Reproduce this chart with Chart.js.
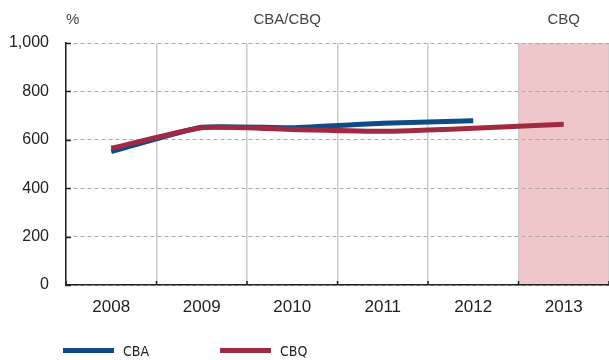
<!DOCTYPE html>
<html>
<head>
<meta charset="utf-8">
<script src="https://cdn.jsdelivr.net/npm/chart.js@4"></script>
<style>
  body { margin: 0; background: #fff; }
  #wrap { position: relative; width: 609px; height: 360px; }
  .leg { position: absolute; top: 343px; line-height: 18px; font: 14px 'Liberation Sans Narrow', 'DejaVu Sans Condensed', sans-serif; color: #222; }
  .leg span { display: inline-block; width: 51px; height: 5px; vertical-align: middle; margin-right: 9px; position: relative; top: -2px; }
</style>
</head>
<body>
<div id="wrap">
  <canvas id="chart" width="609" height="360"></canvas>
  <div class="leg" style="left:63px"><span style="background:#0f4c85"></span>CBA</div>
  <div class="leg" style="left:220px"><span style="background:#a12a42"></span>CBQ</div>
</div>
<script>
const years = ['2008', '2009', '2010', '2011', '2012', '2013'];
const cba = [551, 652, 650, 668, 679, null];
const cbq = [565, 650, 643, 635, 648, 664];
const yTicks = [0, 200, 400, 600, 800, 1000];
const shadedYear = '2013';

const textFont = "'Liberation Sans', Arial, sans-serif";

const extras = {
  id: 'extras',
  beforeDraw(chart) {
    const { ctx, chartArea, scales } = chart;
    const x = scales.x;
    const idx = years.indexOf(shadedYear);
    const left = (x.getPixelForValue(idx - 1) + x.getPixelForValue(idx)) / 2;
    ctx.save();
    ctx.fillStyle = '#efc6c9';
    ctx.fillRect(left, chartArea.top, chartArea.right - left, chartArea.bottom - chartArea.top);
    ctx.restore();
  },
  afterDraw(chart) {
    const { ctx, chartArea, scales } = chart;
    const x = scales.x, y = scales.y;
    const idx = years.indexOf(shadedYear);
    const split = (x.getPixelForValue(idx - 1) + x.getPixelForValue(idx)) / 2;
    ctx.save();
    ctx.fillStyle = '#444';
    ctx.font = '15px ' + textFont;
    ctx.textBaseline = 'middle';
    ctx.textAlign = 'left';
    ctx.fillText('%', chartArea.left, 20);
    ctx.textAlign = 'center';
    ctx.fillText('CBA/CBQ', (chartArea.left + split) / 2 - 5, 20);
    ctx.fillText('CBQ', x.getPixelForValue(idx), 20);
    // inward tick marks
    ctx.strokeStyle = '#222';
    ctx.lineWidth = 1.5;
    ctx.beginPath();
    yTicks.forEach(v => {
      const py = Math.round(y.getPixelForValue(v)) + 0.5;
      ctx.moveTo(chartArea.left, py);
      ctx.lineTo(chartArea.left + 5, py);
    });
    for (let i = 0; i <= years.length; i++) {
      const px = x.getPixelForValue(i - 0.5);
      ctx.moveTo(px, chartArea.bottom);
      ctx.lineTo(px, chartArea.bottom - 4);
    }
    ctx.stroke();
    ctx.restore();
  }
};

new Chart(document.getElementById('chart'), {
  type: 'line',
  data: {
    labels: years,
    datasets: [
      { label: 'CBQ', data: cbq, borderColor: '#a12a42', backgroundColor: '#a12a42', borderWidth: 5, order: 0 },
      { label: 'CBA', data: cba, borderColor: '#0f4c85', backgroundColor: '#0f4c85', borderWidth: 5, order: 1 }
    ]
  },
  options: {
    responsive: false,
    animation: false,
    layout: { padding: { top: 43, right: 0, bottom: 40, left: 0 } },
    elements: {
      point: { radius: 0 },
      line: { tension: 0.15, borderCapStyle: 'butt' }
    },
    plugins: {
      legend: { display: false },
      tooltip: { enabled: false }
    },
    scales: {
      x: {
        offset: true,
        afterFit: s => { s.height = 35; },
        grid: { offset: true, color: '#cccccc', lineWidth: 1.5, drawTicks: false },
        border: { color: '#222', width: 1.5 },
        ticks: { color: '#222', padding: 12, font: { size: 17, family: textFont } }
      },
      y: {
        min: 0,
        max: 1000,
        afterFit: s => { s.width = 66; },
        afterBuildTicks: s => { s.ticks = yTicks.map(v => ({ value: v })); },
        grid: { color: '#aaaaaa', lineWidth: 1, drawTicks: false },
        border: { color: '#222', width: 1.5, dash: [4, 3] },
        ticks: { color: '#222', padding: 17, font: { size: 16, family: textFont } }
      }
    }
  },
  plugins: [extras]
});
</script>
</body>
</html>
